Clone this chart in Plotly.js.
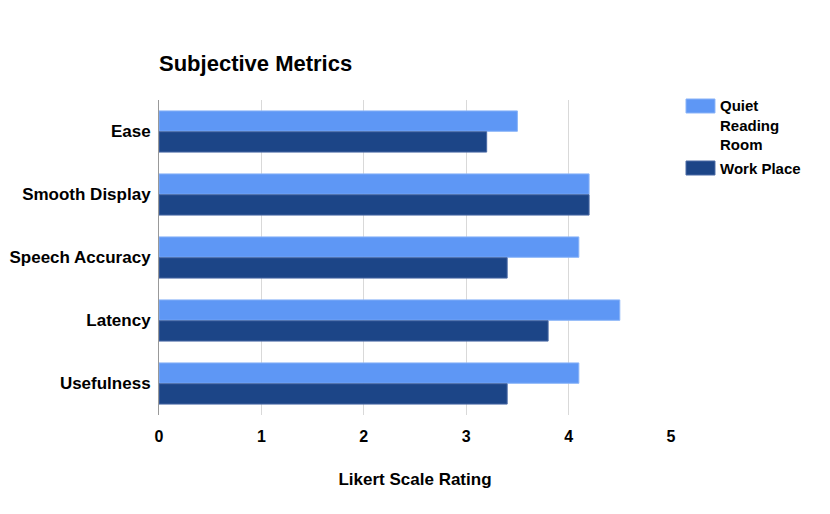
<!DOCTYPE html>
<html><head><meta charset="utf-8">
<script src="https://cdn.plot.ly/plotly-3.0.1.min.js"></script>
<style>html,body{margin:0;padding:0;background:#fff}#chart{width:830px;height:514px}</style>
</head><body><div id="chart"></div>
<script>
const categories = ["Ease", "Smooth Display", "Speech Accuracy", "Latency", "Usefulness"];
const quietReadingRoom = [3.5, 4.2, 4.1, 4.5, 4.1];
const workPlace = [3.2, 4.2, 3.4, 3.8, 3.4];
const seriesNames = ["Quiet<br>Reading<br>Room", "Work Place"];
const seriesColors = ["#5e97f5", "#1c4587"];
const seriesEdges = ["#8ab4f8", "#4a6aa5"];
const xTicks = [0, 1, 2, 3, 4, 5];

const font = "Liberation Sans, Arial, sans-serif";
const bold = s => "<b>" + s.split("<br>").join("</b><br><b>") + "</b>";
const seriesValues = [quietReadingRoom, workPlace];
const traces = seriesValues.map((vals, i) => ({
  type: "bar", orientation: "h", name: seriesNames[i].replace(/<br>/g, " "), y: categories, x: vals,
  marker: {color: seriesColors[i], line: {color: seriesEdges[i], width: 1}}
}));

// custom legend (wide swatches like the reference), in plot-area paper coords
const legendTop = [1.0032, 0.8063];
const swatchH = 14 / 315;
const shapes = seriesNames.map((n, i) => ({
  type: "rect", xref: "paper", yref: "paper",
  x0: 1.0293, x1: 1.0859, y0: legendTop[i] - swatchH, y1: legendTop[i],
  fillcolor: seriesColors[i], line: {color: seriesEdges[i], width: 1}
}));
const annotations = seriesNames.map((n, i) => ({
  xref: "paper", yref: "paper", x: 1.0918, xanchor: "left",
  y: legendTop[i] - swatchH / 2 + (i === 0 ? 19.5 / 315 : 0), yanchor: i === 0 ? "top" : "middle",
  yshift: i === 0 ? -9 : 0,
  text: bold(n), showarrow: false, align: "left",
  font: {family: font, size: 15, color: "#000"}
}));

const layout = {
  width: 830, height: 514,
  margin: {l: 159, r: 159, t: 100, b: 99},
  paper_bgcolor: "#fff", plot_bgcolor: "#fff",
  title: {text: "<b>Subjective Metrics</b>", x: 159/830, xanchor: "left", y: 1 - 63/514, yanchor: "middle",
          font: {family: font, size: 22, color: "#000"}},
  barmode: "group", bargap: 0.34, bargroupgap: 0.02,
  xaxis: {range: [0, 5], tickvals: xTicks, ticktext: xTicks.map(v => "<b>" + v + "</b>"),
          showgrid: true, gridcolor: "#d9d9d9", gridwidth: 1, zeroline: false, showline: false,
          ticks: "", ticklabelstandoff: 10, tickfont: {family: font, size: 16, color: "#000"},
          title: {text: "<b>Likert Scale Rating</b>", standoff: 29, font: {family: font, size: 17, color: "#000"}},
          fixedrange: true},
  yaxis: {autorange: "reversed", categoryorder: "array", categoryarray: categories,
          ticktext: categories.map(c => "<b>" + c + "</b>"), tickvals: categories,
          showline: true, linecolor: "#999", linewidth: 1, showgrid: false, zeroline: false,
          ticks: "", ticklabelstandoff: 4, tickfont: {family: font, size: 17, color: "#000"}, fixedrange: true},
  shapes: shapes,
  annotations: annotations,
  showlegend: false
};
Plotly.newPlot("chart", traces, layout, {displayModeBar: false, staticPlot: true});
</script></body></html>
